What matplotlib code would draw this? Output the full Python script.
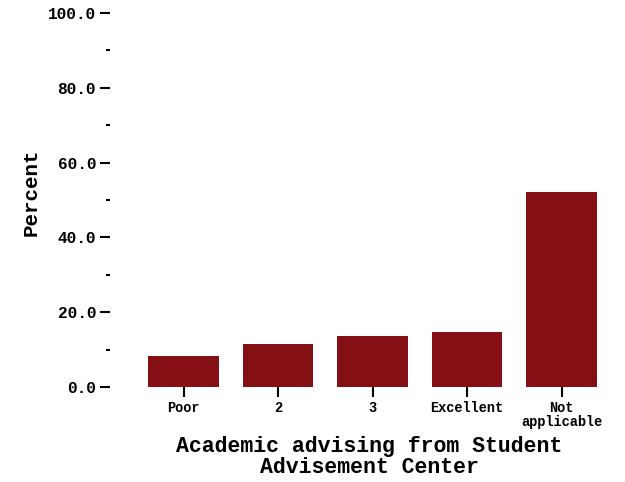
import matplotlib
matplotlib.use("Agg")
import matplotlib.pyplot as plt
from matplotlib.ticker import MultipleLocator, FormatStrFormatter

categories = ["Poor", "2", "3", "Excellent", "Not\napplicable"]
percent = [8.3, 11.5, 13.6, 14.7, 52.1]
yticks = [0, 20, 40, 60, 80, 100]

bar_color = "#841015"
font = "Liberation Mono"

fig = plt.figure(figsize=(6.25, 4.82), dpi=100)
ax = fig.add_axes([110/625, 1 - 387/482, 505/625, 374/482])

x = list(range(len(categories)))
ax.bar(x, percent, width=0.75, color=bar_color)

ax.set_xlim(-0.778, 4.566)
ax.set_ylim(0, 100)
for s in ax.spines.values():
    s.set_visible(False)

ax.set_yticks(yticks)
ax.yaxis.set_major_formatter(FormatStrFormatter("%.1f"))
ax.yaxis.set_minor_locator(MultipleLocator(10))
ax.set_xticks(x)
ax.set_xticklabels(categories, fontfamily=font, fontweight="bold", fontsize=9.8,
                   linespacing=1.05)
for lab in ax.get_yticklabels():
    lab.set_fontfamily(font)
    lab.set_fontweight("bold")
    lab.set_fontsize(11.6)

ax.tick_params(axis="y", which="major", length=7.5, width=1.5, pad=2.5, color="black")
ax.tick_params(axis="y", which="minor", length=3, width=1.5, color="black")
ax.tick_params(axis="x", which="major", length=7, width=1.5, pad=3, color="black")

for t in ax.get_yticklabels(which="minor"):
    t.set_visible(False)

fig.text(369/625, 1 - 436/482, "Academic advising from Student\nAdvisement Center",
         ha="center", va="top", multialignment="center", fontfamily=font,
         fontweight="bold", fontsize=15.5, linespacing=1.0)
fig.text(31/625, 1 - 192.5/482, "Percent", rotation=90, ha="center", va="center",
         fontfamily=font, fontweight="bold", fontsize=15)

fig.savefig("out.png", dpi=100)
